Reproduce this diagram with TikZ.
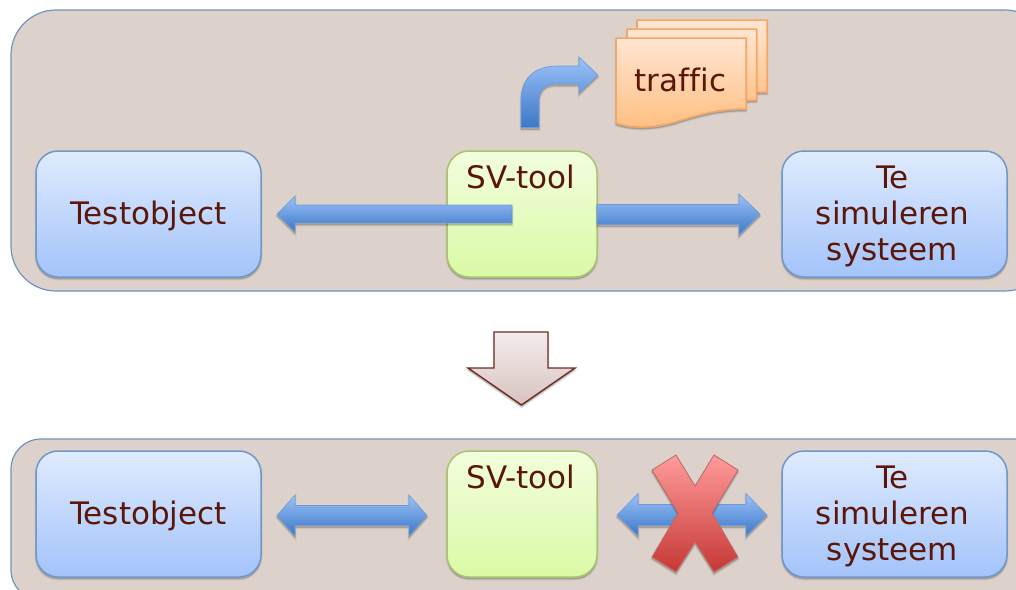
\documentclass[tikz,border=0pt]{standalone}
\usepackage{fontspec}
\setmainfont[Ligatures=CommonOff]{DejaVu Sans}
\definecolor{panelfill}{HTML}{DCD1CB}
\definecolor{panelline}{HTML}{7194BE}
\definecolor{txt}{HTML}{5A1608}
\tikzset{
  softshadow/.style={
    preaction={draw=black,fill=black,opacity=.05,line width=3pt,transform canvas={yshift=-2pt}},
    preaction={draw=black,fill=black,opacity=.10,line width=1.2pt,transform canvas={yshift=-2pt}}},
  panel/.style={fill=panelfill,draw=panelline,line width=1.2pt},
  blockbase/.style={rounded corners=22pt,minimum height=126pt,line width=1.5pt,inner sep=0pt,softshadow},
  bluebox/.style={blockbase,minimum width=225pt,top color=boxbluetop,bottom color=boxbluebot,draw=boxblueline},
  greenbox/.style={blockbase,minimum width=150pt,top color=boxgreentop,bottom color=boxgreenbot,draw=boxgreenline},
  label text/.style={text=txt,font=\fontsize{31}{36}\selectfont,align=center,inner sep=0pt},
  bluearrow/.style={top color=arrtop,bottom color=arrbot,draw=arrline,line width=.6pt,softshadow},
  sheet/.style={top color=sheettop,bottom color=sheetbot,draw=sheetline,line width=1.5pt,softshadow},
}
\definecolor{boxbluetop}{HTML}{DFEBFE}
\definecolor{boxbluebot}{HTML}{A3C3FA}
\definecolor{boxblueline}{HTML}{6F98C9}
\definecolor{boxgreentop}{HTML}{F2FEDE}
\definecolor{boxgreenbot}{HTML}{DAFAA5}
\definecolor{boxgreenline}{HTML}{A8C46E}
\definecolor{arrtop}{HTML}{9CC2F8}
\definecolor{arrbot}{HTML}{3A77C6}
\definecolor{arrline}{HTML}{6E9BD6}
\definecolor{sheettop}{HTML}{FFE6D2}
\definecolor{sheetbot}{HTML}{FFBE80}
\definecolor{sheetline}{HTML}{F6A664}
\begin{document}
\begin{tikzpicture}[x=1pt,y=-1pt]
\useasboundingbox (0,0) rectangle (1016,589);
\clip (0,0) rectangle (1016,589);
\fill[white] (0,0) rectangle (1016,589);
% panels
\draw[panel,rounded corners=45pt] (11,10) rectangle (1050,291);
\draw[panel,rounded corners=30pt] (11,439) rectangle (1050,600);
% top row
\node[bluebox] (to1) at (148.5,214) {};
\node[greenbox] (sv1) at (522,214) {};
\node[bluebox] (te1) at (894.5,214) {};
\node[label text] (to1t) at (148.5,216) {Testobject};
\node[label text] (sv1t) at (521,177) {SV-tool};
\node[label text] (te1t) at (892.5,216) {Te\\simuleren\\systeem};
% bottom row
\node[bluebox] (to2) at (148.5,514) {};
\node[greenbox] (sv2) at (522,514) {};
\node[bluebox] (te2) at (894.5,514) {};
\node[label text] (to2t) at (148.5,516) {Testobject};
\node[label text] (sv2t) at (521,477) {SV-tool};
\node[label text] (te2t) at (892.5,516) {Te\\simuleren\\systeem};
% top arrows
\path[bluearrow] (512,205) -- (295,205) -- (295,196) -- (277,214) -- (295,232) -- (295,223) -- (512,223) -- cycle;
\path[bluearrow] (597,204.5) -- (739,204.5) -- (739,194) -- (760,214) -- (739,235) -- (739,224.5) -- (597,224.5) -- cycle;
% bent arrow
\path[bluearrow] (521,127.5) -- (521,100) .. controls (521,78) and (535,66) .. (557,66) -- (579,66) -- (579,57) -- (598,75) -- (579,93) -- (579,84) -- (556,84) .. controls (545,84) and (539,90) .. (539,101) -- (539,127.5) -- cycle;
% traffic sheets
\path[sheet] (637,20) -- (767,20) -- (767,92) .. controls (740,92) and (720,100) .. (700,106) -- (637,106) -- cycle;
\path[sheet] (627,29) -- (756.5,29) -- (756.5,100) .. controls (730,100) and (710,108) .. (690,114) -- (627,114) -- cycle;
\path[sheet] (616,38) -- (746,38) -- (746,109) .. controls (715,109) and (695,116) .. (675,122) .. controls (655,128) and (632,129) .. (616,123) -- cycle;
\node[label text] (traffic) at (680.5,80) {traffic};
% big down arrow
\path[draw={rgb,255:red,108;green,44;blue,32},line width=1.4pt,top color={rgb,255:red,243;green,236;blue,236},bottom color={rgb,255:red,215;green,195;blue,192},softshadow]
 (494,332) -- (548,332) -- (548,368) -- (575,368) -- (521.5,405) -- (468,368) -- (494,368) -- cycle;
% bottom arrows
\path[bluearrow] (277,515.5) -- (295,495) -- (295,505.5) -- (409,505.5) -- (409,495) -- (427,515.5) -- (409,536) -- (409,525.5) -- (295,525.5) -- (295,536) -- cycle;
\path[bluearrow] (617,515) -- (638,493.5) -- (638,504.5) -- (746,504.5) -- (746,493.5) -- (767,515) -- (746,536) -- (746,525.5) -- (638,525.5) -- (638,536) -- cycle;
% red cross
\path[top color={rgb,255:red,255;green,155;blue,155},bottom color={rgb,255:red,198;green,56;blue,52},draw={rgb,255:red,190;green,105;blue,103},line width=.8pt,softshadow]
 (676,455) -- (695,486) -- (714,455) -- (738,470) -- (712,513) -- (738,557) -- (714,572) -- (695,542) -- (676,572) -- (652,557) -- (678,513) -- (652,470) -- cycle;
\end{tikzpicture}
\end{document}
